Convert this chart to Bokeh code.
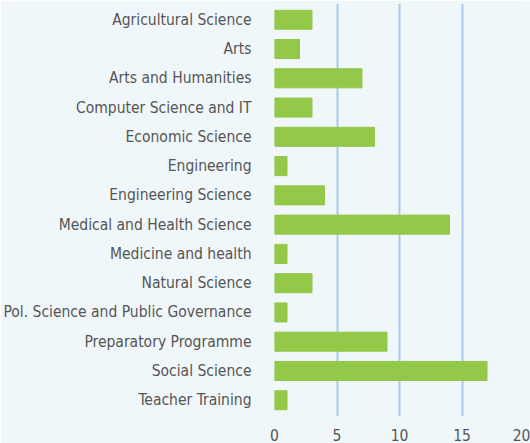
from bokeh.plotting import figure
from bokeh.embed import file_html
from bokeh.resources import INLINE
from bokeh.models import FactorRange, Range1d, FixedTicker, ColumnDataSource

categories = ["Agricultural Science", "Arts", "Arts and Humanities", "Computer Science and IT",
              "Economic Science", "Engineering", "Engineering Science", "Medical and Health Science",
              "Medicine and health", "Natural Science", "Pol. Science and Public Governance",
              "Preparatory Programme", "Social Science", "Teacher Training"]
values = [3, 2, 7, 3, 8, 1, 4, 14, 1, 3, 1, 9, 17, 1]
x_ticks = [0, 5, 10, 15, 20]

FONT = "'DejaVu Sans Condensed', 'Roboto Condensed', Roboto, sans-serif"
BG = "#f0f7fa"

src = ColumnDataSource(dict(cat=categories, val=values))
p = figure(width=530, height=443, output_backend="svg", toolbar_location=None,
           y_range=FactorRange(*reversed(categories)), x_range=Range1d(0, 20),
           background_fill_color=BG, border_fill_color=BG, outline_line_color=None,
           min_border_left=273, min_border_right=6, min_border_top=3, min_border_bottom=24)
p.hbar(y="cat", right="val", left=0, height=0.65, source=src, color="#93c849")
p.y_range.range_padding = 0.008
p.ygrid.grid_line_color = None
p.xgrid.ticker = FixedTicker(ticks=x_ticks)
p.xgrid.grid_line_color = "#a9c9ee"
p.xgrid.grid_line_width = 2
p.xaxis.ticker = FixedTicker(ticks=x_ticks)
for ax in (p.xaxis[0], p.yaxis[0]):
    ax.axis_line_color = None
    ax.major_tick_line_color = None
    ax.minor_tick_line_color = None
    ax.major_label_text_font = FONT
    ax.major_label_text_font_size = "15.5px"
    ax.major_label_text_color = "#555555"
p.yaxis.major_label_standoff = 17
p.xaxis.major_label_standoff = 6

open("out.html", "w").write(file_html(p, INLINE))
